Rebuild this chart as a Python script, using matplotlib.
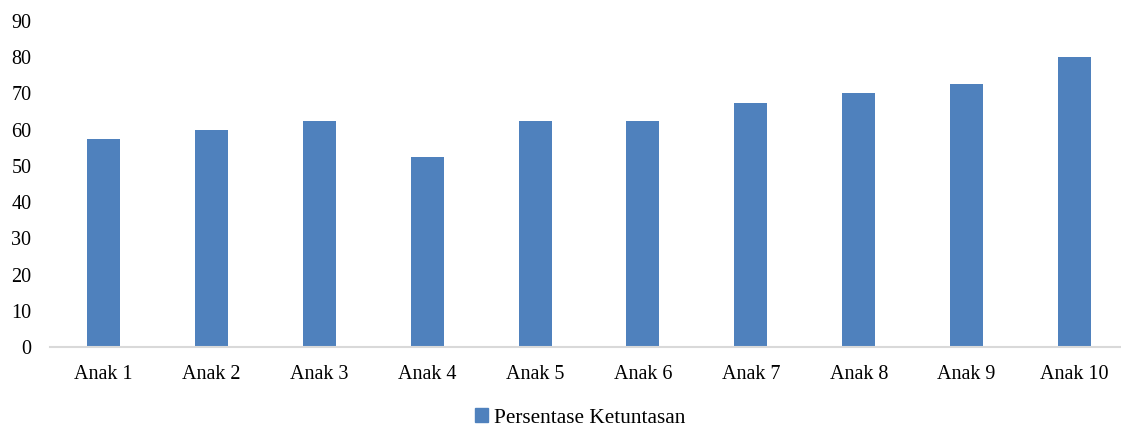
import numpy as np
import matplotlib.pyplot as plt
from matplotlib.patches import Patch

# data
anak = ['Anak 1', 'Anak 2', 'Anak 3', 'Anak 4', 'Anak 5',
        'Anak 6', 'Anak 7', 'Anak 8', 'Anak 9', 'Anak 10']
persen = [57.5, 60, 62.5, 52.5, 62.5, 62.5, 67.5, 70, 72.5, 80]
yticks = [0, 10, 20, 30, 40, 50, 60, 70, 80, 90]

plt.rcParams['font.family'] = ['Liberation Serif', 'DejaVu Serif']

fig = plt.figure(figsize=(11.21, 4.30), dpi=100)
ax = fig.add_axes([49.5 / 1121, 83 / 430, 1079 / 1121, 326 / 430])

x = np.arange(len(anak))
ax.bar(x, persen, width=0.306, color='#4F81BD', zorder=2)

ax.set_xlim(-0.5, len(anak) - 0.5)
ax.set_ylim(0, 90)
ax.set_yticks(yticks)
ax.set_xticks(x)
ax.set_xticklabels(anak)
ax.tick_params(axis='both', length=0, labelsize=14.5)
ax.tick_params(axis='y', pad=13)
ax.tick_params(axis='x', pad=13)

for s in ['top', 'right', 'left']:
    ax.spines[s].set_visible(False)
ax.spines['bottom'].set_color('#D9D9D9')
ax.spines['bottom'].set_linewidth(1.5)

handle = Patch(color='#4F81BD', label='Persentase Ketuntasan')
fig.legend(handles=[handle], loc='center', bbox_to_anchor=(580 / 1121, 1 - 418 / 430),
           frameon=False, fontsize=15.3, handlelength=0.6, handleheight=0.6,
           handletextpad=0.3)

fig.savefig('out.png', dpi=100)
